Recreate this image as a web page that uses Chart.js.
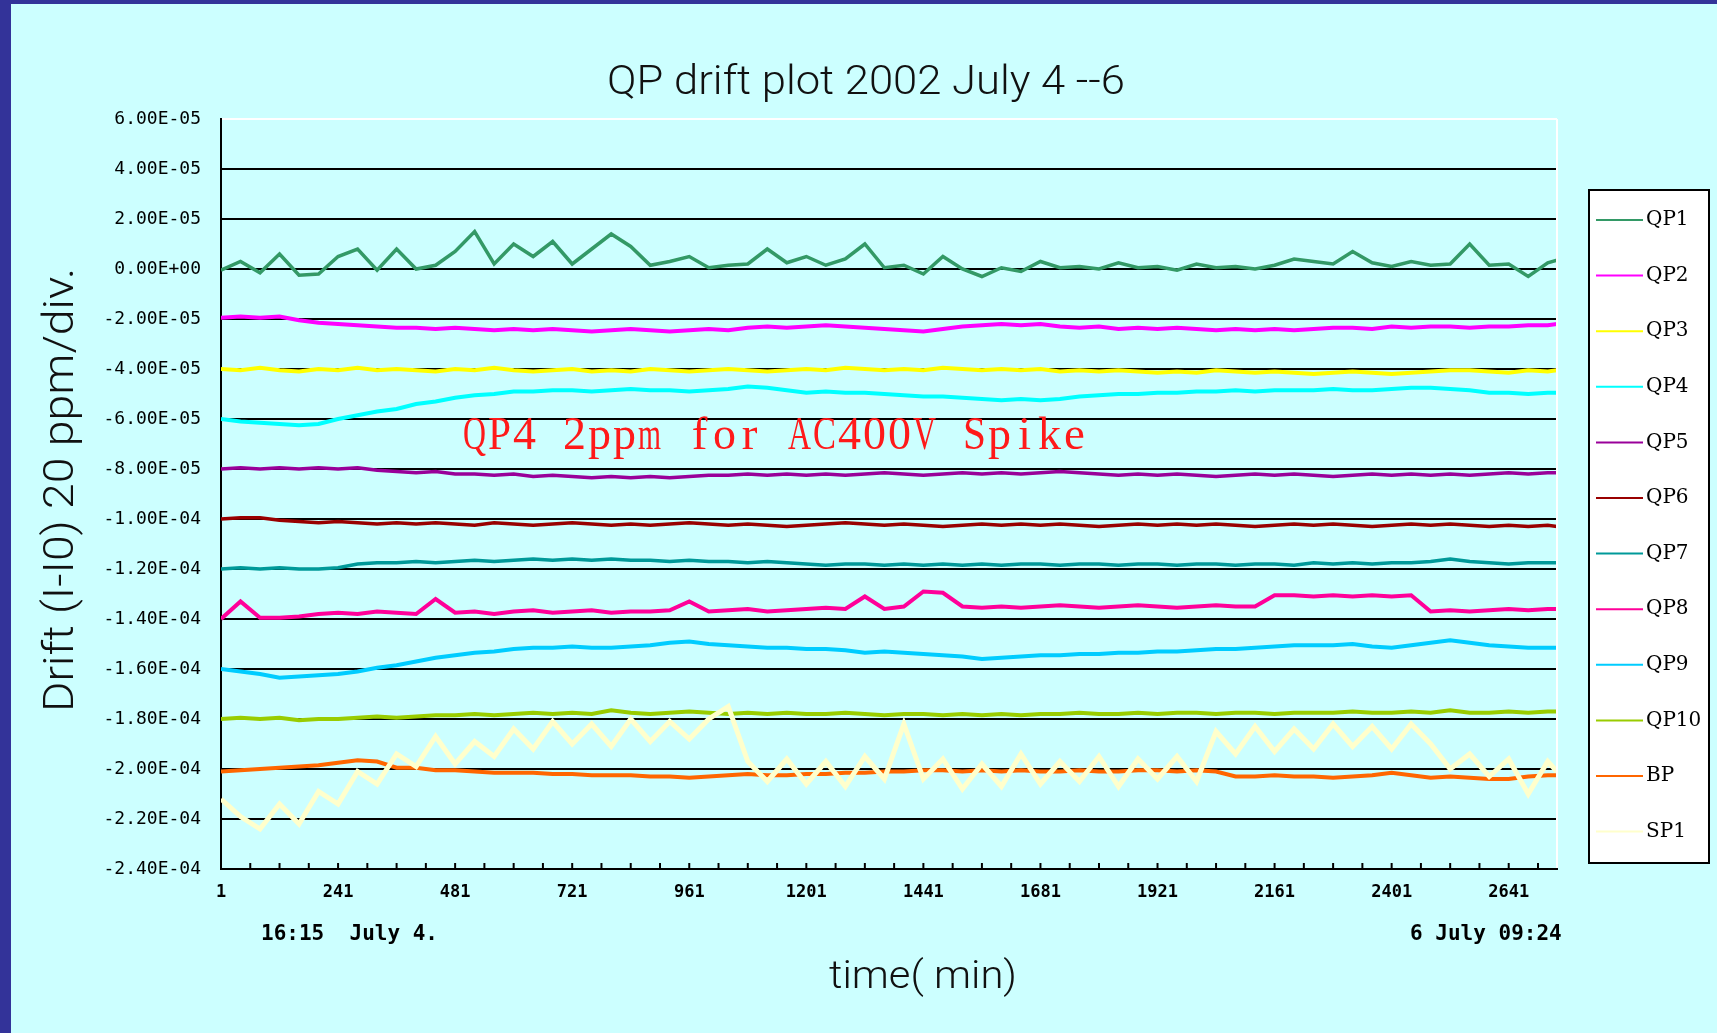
<!DOCTYPE html>
<html>
<head>
<meta charset="utf-8">
<script src="https://cdn.jsdelivr.net/npm/chart.js@4.4.1/dist/chart.umd.min.js"></script>
<style>
html, body { margin: 0; padding: 0; background: #333399; }
#bg { position: absolute; left: 11px; top: 4px; width: 1706px; height: 1029px; background: #ccffff; }
#myChart { position: absolute; left: 0; top: 0; }
</style>
</head>
<body>
<div id="bg"></div>
<canvas id="myChart" width="1717" height="1033"></canvas>
<script>
// sample times (min), values in units of 1E-06
var minutes = [1, 41, 81, 121, 161, 201, 241, 281, 321, 361,
    401, 441, 481, 521, 561, 601, 641, 681, 721, 761,
    801, 841, 881, 921, 961, 1001, 1041, 1081, 1121, 1161,
    1201, 1241, 1281, 1321, 1361, 1401, 1441, 1481, 1521, 1561,
    1601, 1641, 1681, 1721, 1761, 1801, 1841, 1881, 1921, 1961,
    2001, 2041, 2081, 2121, 2161, 2201, 2241, 2281, 2321, 2361,
    2401, 2441, 2481, 2521, 2561, 2601, 2641, 2681, 2721, 2740];

var qp1 = [-0.5, 3, -1.5, 6, -2.5, -2, 5, 8, -0.5, 8,
    0, 1.5, 7, 15, 2, 10, 5, 11, 2, 8,
    14, 9, 1.5, 3, 5, 0.5, 1.5, 2, 8, 2.5,
    5, 1.5, 4, 10, 0.5, 1.5, -2, 5, 0, -3,
    0.5, -1, 3, 0.5, 1, 0, 2.5, 0.5, 1, -0.5,
    2, 0.5, 1, 0, 1.5, 4, 3, 2, 7, 2.5,
    1, 3, 1.5, 2, 10, 1.5, 2, -3, 2.5, 3.5];
var qp2 = [-19.5, -19, -19.5, -19, -20.5, -21.5, -22, -22.5, -23, -23.5,
    -23.5, -24, -23.5, -24, -24.5, -24, -24.5, -24, -24.5, -25,
    -24.5, -24, -24.5, -25, -24.5, -24, -24.5, -23.5, -23, -23.5,
    -23, -22.5, -23, -23.5, -24, -24.5, -25, -24, -23, -22.5,
    -22, -22.5, -22, -23, -23.5, -23, -24, -23.5, -24, -23.5,
    -24, -24.5, -24, -24.5, -24, -24.5, -24, -23.5, -23.5, -24,
    -23, -23.5, -23, -23, -23.5, -23, -23, -22.5, -22.5, -22];
var qp3 = [-40, -40.5, -39.5, -40.5, -41, -40, -40.5, -39.5, -40.5, -40,
    -40.5, -41, -40, -40.5, -39.5, -40.5, -41, -40.5, -40, -41,
    -40.5, -41, -40, -40.5, -41, -40.5, -40, -40.5, -41, -40.5,
    -40, -40.5, -39.5, -40, -40.5, -40, -40.5, -39.5, -40, -40.5,
    -40, -40.5, -40, -41, -40.5, -41, -40.5, -41, -41.5, -41,
    -41.5, -40.5, -41, -41.5, -41, -41.5, -42, -41.5, -41, -41.5,
    -42, -41.5, -41, -40.5, -40.5, -41, -41.5, -40.5, -41, -40.5];
var qp4 = [-60, -61, -61.5, -62, -62.5, -62, -60, -58.5, -57, -56,
    -54, -53, -51.5, -50.5, -50, -49, -49, -48.5, -48.5, -49,
    -48.5, -48, -48.5, -48.5, -49, -48.5, -48, -47, -47.5, -48.5,
    -49.5, -49, -49.5, -49.5, -50, -50.5, -51, -51, -51.5, -52,
    -52.5, -52, -52.5, -52, -51, -50.5, -50, -50, -49.5, -49.5,
    -49, -49, -48.5, -49, -48.5, -48.5, -48.5, -48, -48.5, -48.5,
    -48, -47.5, -47.5, -48, -48.5, -49.5, -49.5, -50, -49.5, -49.5];
var qp5 = [-80, -79.5, -80, -79.5, -80, -79.5, -80, -79.5, -80.5, -81,
    -81.5, -81, -82, -82, -82.5, -82, -83, -82.5, -83, -83.5,
    -83, -83.5, -83, -83.5, -83, -82.5, -82.5, -82, -82.5, -82,
    -82.5, -82, -82.5, -82, -81.5, -82, -82.5, -82, -81.5, -82,
    -81.5, -82, -81.5, -81, -81.5, -82, -82.5, -82, -82.5, -82,
    -82.5, -83, -82.5, -82, -82.5, -82, -82.5, -83, -82.5, -82,
    -82.5, -82, -82.5, -82, -82.5, -82, -81.5, -82, -81.5, -81.5];
var qp6 = [-100, -99.5, -99.5, -100.5, -101, -101.5, -101, -101.5, -102, -101.5,
    -102, -101.5, -102, -102.5, -101.5, -102, -102.5, -102, -101.5, -102,
    -102.5, -102, -102.5, -102, -101.5, -102, -102.5, -102, -102.5, -103,
    -102.5, -102, -101.5, -102, -102.5, -102, -102.5, -103, -102.5, -102,
    -102.5, -102, -102.5, -102, -102.5, -103, -102.5, -102, -102.5, -102,
    -102.5, -102, -102.5, -103, -102.5, -102, -102.5, -102, -102.5, -103,
    -102.5, -102, -102.5, -102, -102.5, -103, -102.5, -103, -102.5, -103];
var qp7 = [-120, -119.5, -120, -119.5, -120, -120, -119.5, -118, -117.5, -117.5,
    -117, -117.5, -117, -116.5, -117, -116.5, -116, -116.5, -116, -116.5,
    -116, -116.5, -116.5, -117, -116.5, -117, -117, -117.5, -117, -117.5,
    -118, -118.5, -118, -118, -118.5, -118, -118.5, -118, -118.5, -118,
    -118.5, -118, -118, -118.5, -118, -118, -118.5, -118, -118, -118.5,
    -118, -118, -118.5, -118, -118, -118.5, -117.5, -118, -117.5, -118,
    -117.5, -117.5, -117, -116, -117, -117.5, -118, -117.5, -117.5, -117.5];
var qp8 = [-140, -133, -139.5, -139.5, -139, -138, -137.5, -138, -137, -137.5,
    -138, -132, -137.5, -137, -138, -137, -136.5, -137.5, -137, -136.5,
    -137.5, -137, -137, -136.5, -133, -137, -136.5, -136, -137, -136.5,
    -136, -135.5, -136, -131, -136, -135, -129, -129.5, -135, -135.5,
    -135, -135.5, -135, -134.5, -135, -135.5, -135, -134.5, -135, -135.5,
    -135, -134.5, -135, -135, -130.5, -130.5, -131, -130.5, -131, -130.5,
    -131, -130.5, -137, -136.5, -137, -136.5, -136, -136.5, -136, -136];
var qp9 = [-160, -161, -162, -163.5, -163, -162.5, -162, -161, -159.5, -158.5,
    -157, -155.5, -154.5, -153.5, -153, -152, -151.5, -151.5, -151, -151.5,
    -151.5, -151, -150.5, -149.5, -149, -150, -150.5, -151, -151.5, -151.5,
    -152, -152, -152.5, -153.5, -153, -153.5, -154, -154.5, -155, -156,
    -155.5, -155, -154.5, -154.5, -154, -154, -153.5, -153.5, -153, -153,
    -152.5, -152, -152, -151.5, -151, -150.5, -150.5, -150.5, -150, -151,
    -151.5, -150.5, -149.5, -148.5, -149.5, -150.5, -151, -151.5, -151.5, -151.5];
var qp10 = [-180, -179.5, -180, -179.5, -180.5, -180, -180, -179.5, -179, -179.5,
    -179, -178.5, -178.5, -178, -178.5, -178, -177.5, -178, -177.5, -178,
    -176.5, -177.5, -178, -177.5, -177, -177.5, -178, -177.5, -178, -177.5,
    -178, -178, -177.5, -178, -178.5, -178, -178, -178.5, -178, -178.5,
    -178, -178.5, -178, -178, -177.5, -178, -178, -177.5, -178, -177.5,
    -177.5, -178, -177.5, -177.5, -178, -177.5, -177.5, -177.5, -177, -177.5,
    -177.5, -177, -177.5, -176.5, -177.5, -177.5, -177, -177.5, -177, -177];
var bp = [-201, -200.5, -200, -199.5, -199, -198.5, -197.5, -196.5, -197, -199.5,
    -199.5, -200.5, -200.5, -201, -201.5, -201.5, -201.5, -202, -202, -202.5,
    -202.5, -202.5, -203, -203, -203.5, -203, -202.5, -202, -202.5, -202.5,
    -202, -202, -201.5, -201.5, -201, -201, -200.5, -200.5, -201, -200.5,
    -201, -200.5, -201, -201, -200.5, -201, -201, -200.5, -200.5, -201,
    -200.5, -201, -203, -203, -202.5, -203, -203, -203.5, -203, -202.5,
    -201.5, -202.5, -203.5, -203, -203.5, -204, -204, -203, -202.5, -202.5];
var sp1 = [-212, -219, -224, -214, -222, -209, -214, -201, -206, -194,
    -199, -187, -198, -189, -195, -184, -192, -181, -190, -182,
    -191, -180, -189, -181, -188, -180, -175, -197, -205, -196,
    -206, -197, -207, -195, -204, -182, -204, -196, -208, -198,
    -207, -194, -206, -197, -205, -195, -207, -196, -204, -195,
    -205, -185, -194, -183, -193, -184, -192, -182, -191, -183,
    -192, -182, -190, -200, -194, -203, -196, -210, -197, -201];

var seriesNames = ['QP1', 'QP2', 'QP3', 'QP4', 'QP5', 'QP6', 'QP7', 'QP8', 'QP9', 'QP10', 'BP', 'SP1'];
var seriesValues = [qp1, qp2, qp3, qp4, qp5, qp6, qp7, qp8, qp9, qp10, bp, sp1];
var seriesColors = ['#339966', '#ff00ff', '#ffff00', '#00ffff', '#990099', '#990000',
    '#009999', '#ff0099', '#00ccff', '#99cc00', '#ff6600', '#ffffcc'];
var seriesWidths = [3.5, 4, 4, 4, 3.5, 3.5, 3.5, 4, 4, 4, 4, 5];

var yTicks = [-2.4e-4, -2.2e-4, -2.0e-4, -1.8e-4, -1.6e-4, -1.4e-4, -1.2e-4, -1.0e-4,
    -8e-5, -6e-5, -4e-5, -2e-5, 0, 2e-5, 4e-5, 6e-5];
var yTickLabels = ['-2.40E-04', '-2.20E-04', '-2.00E-04', '-1.80E-04', '-1.60E-04', '-1.40E-04',
    '-1.20E-04', '-1.00E-04', '-8.00E-05', '-6.00E-05', '-4.00E-05', '-2.00E-05',
    '0.00E+00', '2.00E-05', '4.00E-05', '6.00E-05'];
var xTickLabels = [1, 241, 481, 721, 961, 1201, 1441, 1681, 1921, 2161, 2401, 2641];

var titleText = 'QP drift plot 2002 July 4 --6';
var yTitle = 'Drift (I-I0) 20 ppm/div.';
var xTitle = 'time( min)';
var startText = '16:15  July 4.';
var endText = '6 July 09:24';
var noteText = 'QP4 2ppm for AC400V Spike';

var datasets = seriesValues.map(function (vals, i) {
    return {
        label: seriesNames[i],
        data: vals.map(function (v, j) { return { x: minutes[j], y: v * 1e-6 }; }),
        borderColor: seriesColors[i],
        borderWidth: seriesWidths[i],
        pointRadius: 0,
        tension: 0,
        order: seriesValues.length - i
    };
});

// draw text stretched to a given width (old charts used wide fonts)
function wideText(c, text, x, y, width) {
    var w = c.measureText(text).width;
    c.save();
    c.translate(x, y);
    c.scale(width / w, 1);
    c.fillText(text, 0, 0);
    c.restore();
}

var textPlugin = {
    id: 'qpText',
    afterDraw: function (chart) {
        var c = chart.ctx;
        var area = chart.chartArea;
        var xs = chart.scales.x;
        c.save();

        // tick marks point into the plot
        c.strokeStyle = '#000';
        c.lineWidth = 2;
        xs.ticks.forEach(function (t) {
            var px = xs.getPixelForValue(t.value);
            c.beginPath();
            c.moveTo(px, area.bottom);
            c.lineTo(px, area.bottom - 6);
            c.stroke();
        });
        c.strokeStyle = '#ffffff';
        c.beginPath();
        c.moveTo(area.right, area.top);
        c.lineTo(area.right, area.bottom - 1);
        c.stroke();

        c.fillStyle = '#111';
        c.textAlign = 'center';
        c.textBaseline = 'middle';
        c.font = '300 40px Roboto';
        wideText(c, titleText, 866, 84, 518);

        c.font = '300 38px Roboto';
        wideText(c, xTitle, 923, 978, 188);

        c.save();
        c.translate(62, 490);
        c.rotate(-Math.PI / 2);
        c.font = '300 42px Roboto';
        wideText(c, yTitle, 0, 0, 444);
        c.restore();

        c.fillStyle = '#000';
        c.textAlign = 'left';
        c.font = 'bold 21px "DejaVu Sans Mono"';
        c.fillText(startText, 261, 935);
        c.fillText(endText, 1410, 935);

        // red note, one fixed cell per character
        c.fillStyle = '#ff1a1a';
        c.textAlign = 'center';
        c.textBaseline = 'alphabetic';
        c.font = '47px "Liberation Serif"';
        for (var k = 0; k < noteText.length; k++) {
            c.fillText(noteText[k], 462 + 25 * k + 12.5, 449, 23);
        }

        // legend box
        c.fillStyle = '#ffffff';
        c.fillRect(1589, 190, 120, 673);
        c.strokeStyle = '#000';
        c.lineWidth = 2;
        c.strokeRect(1589, 190, 120, 673);
        c.font = '20px "DejaVu Serif"';
        c.textAlign = 'left';
        c.textBaseline = 'middle';
        chart.data.datasets.forEach(function (ds, i) {
            var ly = 220 + i * 55.6;
            c.strokeStyle = ds.borderColor;
            c.lineWidth = 2;
            c.beginPath();
            c.moveTo(1596, ly);
            c.lineTo(1643, ly);
            c.stroke();
            c.fillStyle = '#000';
            c.fillText(ds.label, 1646, ly);
        });
        c.restore();
    }
};

new Chart(document.getElementById('myChart'), {
    type: 'line',
    data: { datasets: datasets },
    options: {
        responsive: false,
        animation: false,
        devicePixelRatio: 1,
        layout: { padding: { left: 0, top: 119, right: 160, bottom: 0 } },
        plugins: {
            legend: { display: false },
            title: { display: false },
            tooltip: { enabled: false }
        },
        scales: {
            x: {
                type: 'linear',
                min: 1,
                max: 2740,
                afterBuildTicks: function (s) {
                    var t = [];
                    for (var m = 1; m <= 2740; m += 60) t.push({ value: m });
                    s.ticks = t;
                },
                afterFit: function (s) { s.height = 164; },
                ticks: {
                    autoSkip: false,
                    maxRotation: 0,
                    padding: 5,
                    color: '#000',
                    font: { family: 'DejaVu Sans Mono', size: 17, weight: 'bold' },
                    callback: function (v) { return xTickLabels.indexOf(v) >= 0 ? String(v) : ''; }
                },
                grid: { display: false },
                border: { display: true, color: '#000', width: 2 }
            },
            y: {
                type: 'linear',
                min: -2.4e-4,
                max: 6e-5,
                afterBuildTicks: function (s) {
                    s.ticks = yTicks.map(function (v) { return { value: v }; });
                },
                afterFit: function (s) { s.width = 221; },
                ticks: {
                    padding: 20,
                    color: '#000',
                    font: { family: 'DejaVu Sans Mono', size: 18 },
                    callback: function (v, i) { return yTickLabels[i]; }
                },
                grid: {
                    drawTicks: false,
                    lineWidth: 2,
                    color: function (ctx) { return ctx.index === yTicks.length - 1 ? '#ffffff' : '#000000'; }
                },
                border: { display: true, color: '#000', width: 2 }
            }
        }
    },
    plugins: [textPlugin]
});
</script>
</body>
</html>
